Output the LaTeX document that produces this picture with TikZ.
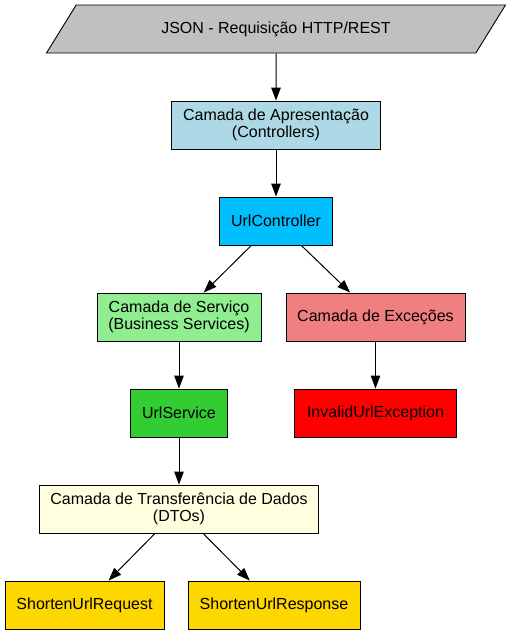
\documentclass[tikz,border=0pt]{standalone}
\usepackage{fontspec}
\setmainfont{Liberation Sans}
\usepackage{tikz}
\usetikzlibrary{shapes.geometric, arrows.meta, positioning}
\definecolor{requestgray}{RGB}{192,192,192}
\definecolor{presentcolor}{RGB}{173,216,230}
\definecolor{controllercolor}{RGB}{0,191,255}
\definecolor{servicelayercolor}{RGB}{144,238,144}
\definecolor{servicecolor}{RGB}{50,205,50}
\definecolor{exceptlayercolor}{RGB}{240,128,128}
\definecolor{exceptcolor}{RGB}{255,0,0}
\definecolor{dtolayercolor}{RGB}{255,255,224}
\definecolor{dtocolor}{RGB}{255,215,0}

\begin{document}
\begin{tikzpicture}[
    x=1pt, y=-1pt,
    layer/.style={draw, line width=0.9pt, minimum height=48pt, inner sep=0pt, align=center, font=\fontsize{16}{16.7}\selectfont},
    input/.style={layer, trapezium, trapezium left angle=26.8, trapezium right angle=153.2, trapezium stretches body, minimum width=459pt},
    flow/.style={-{Triangle[length=13pt, width=9.5pt]}, line width=1pt}
]
    \useasboundingbox (0,0) rectangle (512,635);

    % Input
    \node[input, fill=requestgray] (json) at (276,29) {JSON - Requisição HTTP/REST};

    % Layers
    \node[layer, fill=presentcolor, minimum width=209pt] (present) at (276,125) {Camada de Apresentação\\(Controllers)};
    \node[layer, fill=controllercolor, minimum width=113.6pt] (controller) at (276,221) {UrlController};

    \node[layer, fill=servicelayercolor, minimum width=164pt] (servlayer) at (179,317) {Camada de Serviço\\(Business Services)};
    \node[layer, fill=exceptlayercolor, minimum width=179pt] (exclayer) at (375.5,317) {Camada de Exceções};

    \node[layer, fill=servicecolor, minimum width=97.3pt] (service) at (179,413) {UrlService};
    \node[layer, fill=exceptcolor, minimum width=161.3pt] (invalid) at (375.5,413) {InvalidUrlException};

    \node[layer, fill=dtolayercolor, minimum width=279pt] (dtolayer) at (179,509) {Camada de Transferência de Dados\\(DTOs)};

    % DTOs
    \node[layer, fill=dtocolor, minimum width=159pt] (request) at (84.5,605) {ShortenUrlRequest};
    \node[layer, fill=dtocolor, minimum width=172pt] (response) at (274,605) {ShortenUrlResponse};

    % Flow
    \draw[flow] (json) -- (present);
    \draw[flow] (present) -- (controller);
    \draw[flow] (controller) -- (servlayer);
    \draw[flow] (controller) -- (exclayer);
    \draw[flow] (servlayer) -- (service);
    \draw[flow] (exclayer) -- (invalid);
    \draw[flow] (service) -- (dtolayer);
    \draw[flow] (dtolayer) -- (request);
    \draw[flow] (dtolayer) -- (response);
\end{tikzpicture}
\end{document}
